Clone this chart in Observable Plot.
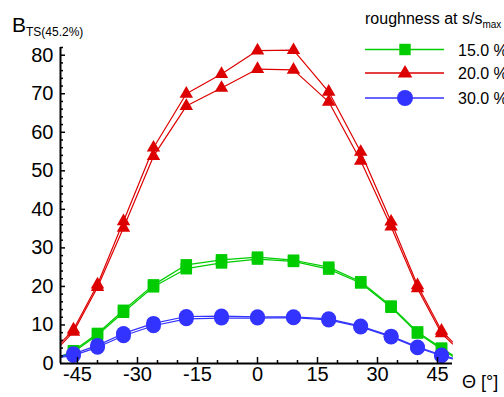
<!DOCTYPE html>
<html><head><meta charset="utf-8">
<script src="https://cdn.jsdelivr.net/npm/d3@7"></script>
<script src="https://cdn.jsdelivr.net/npm/@observablehq/plot@0.6"></script>
<style>
body{margin:0;background:#fff;}
#wrap{position:relative;width:504px;height:397px;overflow:hidden;background:#fff;font-family:"Liberation Sans",Arial,Helvetica,sans-serif;}
#wrap svg{position:absolute;left:0;top:0;}
</style></head><body><div id="wrap"></div>
<script>
// Theta positions (first and last are where the curves leave the frame)
const theta = [-49.25, -46, -40, -33.5, -26, -17.8, -9, 0, 9, 17.8, 25.8, 33.4, 40, 46, 48.75];

const green15A = [1.8, 3.3, 7.8, 13.8, 20.4, 25.6, 26.9, 27.6, 26.8, 25.0, 21.2, 14.9, 8.2, 4.0, 2.2];
const green15B = [1.5, 3.0, 7.4, 13.3, 19.9, 24.6, 26.1, 27.1, 26.5, 24.5, 20.9, 14.6, 7.9, 3.7, 1.9];
const red20A   = [5.3, 8.8, 20.5, 36.9, 56.0, 70.0, 75.1, 81.2, 81.3, 70.5, 54.9, 36.8, 20.3, 8.5, 5.6];
const red20B   = [4.7, 8.2, 19.8, 35.2, 53.8, 66.8, 71.5, 76.4, 76.2, 67.9, 52.6, 35.5, 19.5, 7.8, 5.1];
const blue30A  = [2.0, 2.5, 4.7, 7.8, 10.4, 12.2, 12.3, 12.1, 12.1, 11.6, 9.7, 7.1, 4.3, 2.2, 1.4];
const blue30B  = [1.6, 2.1, 4.2, 7.2, 9.8, 11.6, 11.8, 11.8, 11.9, 11.3, 9.5, 6.9, 4.1, 2.0, 1.2];

const seriesLabels = ["15.0 %", "20.0 %", "30.0 %"];
const seriesColors = ["#00cc00", "#dd0000", "#3333ff"];
const seriesSymbols = ["square", "triangle", "circle"];
const seriesR = [6.5, 5, 7.5];
const seriesCurves = [[green15A, green15B], [red20A, red20B], [blue30A, blue30B]];

const xMajor = [-45, -30, -15, 0, 15, 30, 45];
const xMinor = [-40, -35, -25, -20, -10, -5, 5, 10, 20, 25, 35, 40];
const yMajor = [0, 10, 20, 30, 40, 50, 60, 70, 80];
const yMinor = [2,4,6,8,12,14,16,18,22,24,26,28,32,34,36,38,42,44,46,48,52,54,56,58,62,64,66,68,72,74,76,78,82];

const xDomain = [-49.25, 48.75];
const yDomain = [0, 82];

const marks = [];
seriesLabels.forEach((lab, s) => {
  const rows = [];
  seriesCurves[s].forEach((vals, c) => {
    vals.forEach((v, i) => rows.push({z: lab + c, x: theta[i], y: v, marker: i > 0 && i < theta.length - 1}));
  });
  marks.push(Plot.line(rows, {x: "x", y: "y", z: "z", stroke: seriesColors[s], strokeWidth: 1.2}));
  marks.push(Plot.dot(rows.filter(d => d.marker), {x: "x", y: "y", symbol: seriesSymbols[s], r: seriesR[s], fill: seriesColors[s], stroke: "none"}));
});

const chart = Plot.plot({
  width: 504, height: 397,
  marginLeft: 60, marginRight: 52, marginTop: 47, marginBottom: 34,
  x: {domain: xDomain},
  y: {domain: yDomain},
  style: {fontFamily: "'Liberation Sans', Arial, sans-serif", fontSize: "20px", color: "black", background: "transparent"},
  marks: [
    ...marks,
    Plot.axisX({ticks: xMajor, tickSize: 0, tickPadding: 3, tickFormat: d => String(d), label: null, fontSize: 20}),
    Plot.axisY({ticks: yMajor, tickSize: 0, tickPadding: 7, tickFormat: d => String(d), label: null, fontSize: 20}),
    Plot.axisX({ticks: xMajor, tickSize: -6, text: null, label: null, strokeWidth: 1.5}),
    Plot.axisX({ticks: xMinor, tickSize: -3, text: null, label: null, strokeWidth: 1.5}),
    Plot.axisY({ticks: yMajor.filter(d => d > 0), tickSize: -5, text: null, label: null, strokeWidth: 1.5}),
    Plot.axisY({ticks: yMinor, tickSize: -3, text: null, label: null, strokeWidth: 1.5}),
    Plot.ruleX([xDomain[0]], {stroke: "black", strokeWidth: 2}),
    Plot.ruleY([0], {stroke: "black", strokeWidth: 2})
  ]
});
const wrap = document.getElementById("wrap");
wrap.appendChild(chart);

// Overlay: titles and legend
const legendRowsY = [49.5, 73, 98];
let ov = `<svg xmlns="http://www.w3.org/2000/svg" width="504" height="397" style="pointer-events:none;font-family:'Liberation Sans',Arial,sans-serif">`;
ov += `<text x="12" y="32" font-size="21">B<tspan dy="4" font-size="12">TS(45.2%)</tspan></text>`;
ov += `<text x="462" y="388" font-size="18">Θ [°]</text>`;
ov += `<text x="365" y="24" font-size="16">roughness at s/s<tspan dy="4" font-size="10">max</tspan></text>`;
seriesLabels.forEach((lab, s) => {
  const y = legendRowsY[s], c = seriesColors[s], cx = 405;
  ov += `<line x1="365" x2="444" y1="${y}" y2="${y}" stroke="${c}" stroke-width="1.3"/>`;
  if (seriesSymbols[s] === "square") ov += `<rect x="${cx-5.7}" y="${y-5.7}" width="11.4" height="11.4" fill="${c}"/>`;
  else if (seriesSymbols[s] === "triangle") ov += `<polygon points="${cx},${y-8} ${cx-7.3},${y+4.5} ${cx+7.3},${y+4.5}" fill="${c}"/>`;
  else ov += `<circle cx="${cx}" cy="${y}" r="8" fill="${c}"/>`;
  ov += `<text x="458" y="${y+6}" font-size="16">${lab}</text>`;
});
ov += `</svg>`;
wrap.insertAdjacentHTML("beforeend", ov);
</script>
</body></html>
